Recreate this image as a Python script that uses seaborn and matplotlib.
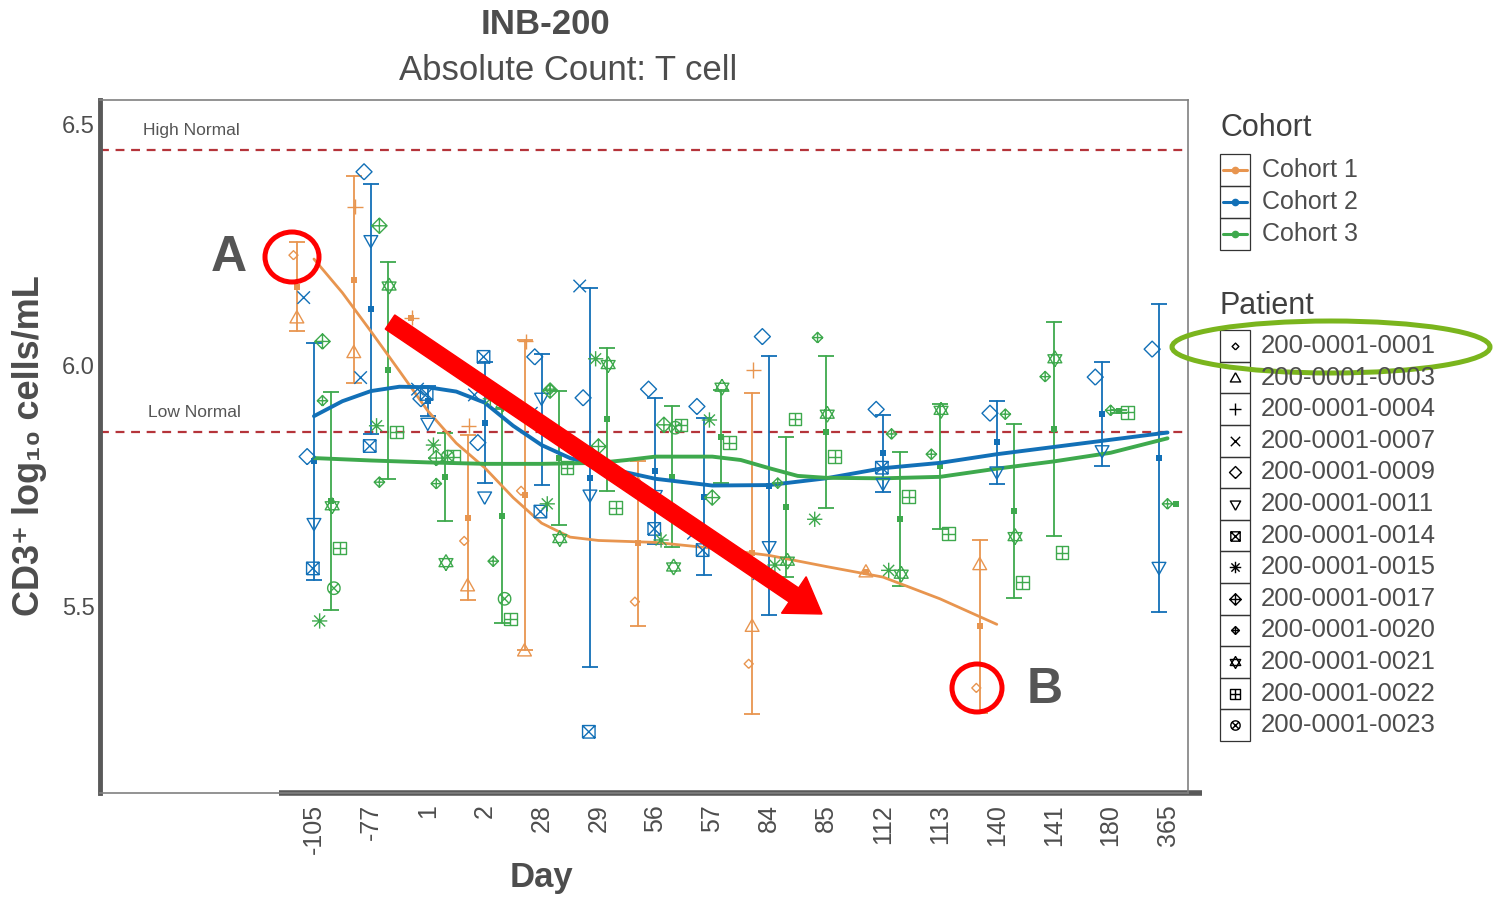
import numpy as np
import pandas as pd
import seaborn as sns
import matplotlib.pyplot as plt
from matplotlib.path import Path
from matplotlib.lines import Line2D
from matplotlib.patches import Ellipse, Rectangle, FancyArrow
from matplotlib import transforms

days = [-105, -77, 1, 2, 28, 29, 56, 57, 84, 85, 112, 113, 140, 141, 180, 365]
day_labels = [str(d) for d in days]
cohorts = ["Cohort 1", "Cohort 2", "Cohort 3"]
colors = ["#E8954F", "#1270B7", "#3EA94D"]

high_normal = 6.446
low_normal = 5.861

# per patient readings (log10 cells/mL)
p0001_days = [-105, 2, 28, 56, 84, 140]
p0001_vals = [6.228, 5.635, 5.739, 5.509, 5.380, 5.330]
p0003_days = [-105, -77, 2, 28, 56, 84, 112, 140]
p0003_vals = [6.097, 6.025, 5.541, 5.406, 5.751, 5.457, 5.570, 5.585]
p0004_days = [-77, 1, 2, 28, 84]
p0004_vals = [6.329, 6.098, 5.874, 6.049, 5.990]

p0007_days = [-105, -77, 1, 2, 28, 29, 57, 84]
p0007_vals = [6.140, 5.974, 5.950, 5.938, 5.900, 6.164, 5.651, 5.567]
p0009_days = [-105, -77, 1, 2, 28, 29, 56, 57, 84, 112, 140, 180, 365]
p0009_vals = [5.810, 6.401, 5.930, 5.839, 6.017, 5.932, 5.950, 5.914, 6.059, 5.908, 5.900, 5.975, 6.033]
p0011_days = [-105, -77, 1, 2, 28, 29, 56, 84, 112, 140, 180, 365]
p0011_vals = [5.672, 6.259, 5.880, 5.727, 5.932, 5.731, 5.730, 5.624, 5.755, 5.779, 5.823, 5.581]
p0014_days = [-105, -77, 1, 2, 28, 29, 56, 57, 112]
p0014_vals = [5.578, 5.832, 5.940, 6.017, 5.696, 5.239, 5.660, 5.616, 5.787]

p0015_days = [-105, -77, 1, 2, 28, 29, 56, 57, 84, 85, 112]
p0015_vals = [5.469, 5.874, 5.834, 5.930, 5.712, 6.013, 5.637, 5.886, 5.585, 5.680, 5.574]
p0017_days = [-105, -77, 1, 28, 29, 56, 57]
p0017_vals = [6.049, 6.289, 5.807, 5.947, 5.831, 5.876, 5.725]
p0020_days = [-105, -77, 1, 2, 28, 84, 85, 112, 113, 140, 141, 180, 365]
p0020_vals = [5.926, 5.757, 5.754, 5.593, 5.950, 5.755, 6.057, 5.857, 5.815, 5.898, 5.976, 5.906, 5.712]
p0021_days = [-105, -77, 1, 2, 28, 29, 56, 57, 84, 85, 112, 113, 140, 141]
p0021_vals = [5.708, 6.164, 5.590, 5.920, 5.640, 6.001, 5.581, 5.954, 5.593, 5.898, 5.566, 5.906, 5.644, 6.013]
p0022_days = [-105, -77, 1, 2, 28, 29, 56, 57, 84, 85, 112, 113, 140, 141, 180]
p0022_vals = [5.620, 5.861, 5.810, 5.473, 5.787, 5.704, 5.876, 5.839, 5.888, 5.810, 5.727, 5.650, 5.549, 5.611, 5.902]
p0023_days = [-105, 1, 2, 56]
p0023_vals = [5.537, 5.810, 5.515, 5.870]

patient_ids = ["200-0001-0001", "200-0001-0003", "200-0001-0004", "200-0001-0007",
               "200-0001-0009", "200-0001-0011", "200-0001-0014", "200-0001-0015",
               "200-0001-0017", "200-0001-0020", "200-0001-0021", "200-0001-0022",
               "200-0001-0023"]
patient_cohort = [1, 1, 1, 2, 2, 2, 2, 3, 3, 3, 3, 3, 3]
patient_days = [p0001_days, p0003_days, p0004_days, p0007_days, p0009_days, p0011_days,
                p0014_days, p0015_days, p0017_days, p0020_days, p0021_days, p0022_days,
                p0023_days]
patient_vals = [p0001_vals, p0003_vals, p0004_vals, p0007_vals, p0009_vals, p0011_vals,
                p0014_vals, p0015_vals, p0017_vals, p0020_vals, p0021_vals, p0022_vals,
                p0023_vals]

# loess trend per cohort, read at category positions
smooth1_pos = [0, 0.5, 1, 1.5, 2, 2.5, 3, 3.5, 4, 4.5, 5, 6, 7, 8, 9, 10, 11, 12]
smooth1_val = [6.220, 6.150, 6.070, 5.988, 5.905, 5.838, 5.787, 5.725, 5.672, 5.643,
               5.636, 5.632, 5.620, 5.605, 5.582, 5.560, 5.515, 5.462]
smooth2_pos = [0, 0.5, 1, 1.5, 2, 2.5, 3, 3.5, 4, 4.5, 5, 6, 7, 8, 9, 10, 11, 12, 13, 14, 15]
smooth2_val = [5.894, 5.925, 5.946, 5.955, 5.954, 5.945, 5.922, 5.874, 5.834, 5.807,
               5.790, 5.764, 5.750, 5.751, 5.765, 5.786, 5.797, 5.815, 5.830, 5.845, 5.860]
smooth3_pos = [0, 1, 2, 3, 4, 5, 5.5, 6, 7, 7.5, 8, 8.5, 9, 10, 11, 12, 13, 14, 15]
smooth3_val = [5.807, 5.802, 5.798, 5.795, 5.795, 5.797, 5.803, 5.810, 5.810, 5.803,
               5.786, 5.770, 5.766, 5.765, 5.768, 5.785, 5.800, 5.818, 5.848]


def outline(*lines):
    verts, codes = [], []
    for ln in lines:
        verts.extend(ln)
        codes.extend([Path.MOVETO] + [Path.LINETO] * (len(ln) - 1))
    return Path(verts, codes)


sq = [(-1, -1), (1, -1), (1, 1), (-1, 1), (-1, -1)]
dia = [(0, -1), (1, 0), (0, 1), (-1, 0), (0, -1)]
ring = [(np.cos(t), np.sin(t)) for t in np.linspace(0, 2 * np.pi, 25)]
hbar, vbar = [(-1, 0), (1, 0)], [(0, -1), (0, 1)]
d1, d2 = [(-0.72, -0.72), (0.72, 0.72)], [(-0.72, 0.72), (0.72, -0.72)]

marker_paths = [
    outline(dia),
    outline([(0, 1), (0.9, -0.6), (-0.9, -0.6), (0, 1)]),
    outline(hbar, vbar),
    outline([(-1, -1), (1, 1)], [(-1, 1), (1, -1)]),
    outline(dia),
    outline([(0, -1), (0.9, 0.6), (-0.9, 0.6), (0, -1)]),
    outline(sq, [(-1, -1), (1, 1)], [(-1, 1), (1, -1)]),
    outline(hbar, vbar, d1, d2),
    outline(dia, hbar, vbar),
    outline(dia, hbar, vbar),
    outline([(0, 1), (0.87, -0.5), (-0.87, -0.5), (0, 1)],
            [(0, -1), (0.87, 0.5), (-0.87, 0.5), (0, -1)]),
    outline(sq, hbar, vbar),
    outline(ring, [(-0.7, -0.7), (0.7, 0.7)], [(-0.7, 0.7), (0.7, -0.7)]),
]
marker_size = [6.5, 11, 11, 9, 11.5, 11, 9, 11, 11, 7.5, 11.5, 9, 9]
jitter = [-0.06, 0.0, 0.02, -0.18, -0.12, 0.0, -0.02, -0.2, -0.15, -0.15, 0.02, 0.15, 0.05]

rows = []
for pid, coh, dl, vl in zip(patient_ids, patient_cohort, patient_days, patient_vals):
    for d, v in zip(dl, vl):
        rows.append({"patient": pid, "cohort": cohorts[coh - 1], "day": d, "value": v})
df = pd.DataFrame(rows)
df["pos"] = df["day"].map({d: i for i, d in enumerate(days)})
present = df.groupby("day")["cohort"].apply(lambda s: sorted(s.unique()))
df["xmean"] = [p + (present[d].index(c) - (len(present[d]) - 1) / 2) * 0.3
               for p, d, c in zip(df["pos"], df["day"], df["cohort"])]
df["xpat"] = df["xmean"] + df["patient"].map(dict(zip(patient_ids, jitter)))

sns.set_style("white")
plt.rcParams["font.family"] = ["Liberation Sans", "DejaVu Sans"]

W, H = 1493, 899
fig = plt.figure(figsize=(W / 100, H / 100), dpi=100)
pix = transforms.Affine2D().scale(0.01, -0.01).translate(0, H / 100) + fig.dpi_scale_trans
ax = fig.add_axes([100 / W, 1 - 793 / H, 1088 / W, 693 / H])

for yv in [high_normal, low_normal]:
    ax.axhline(yv, color="#B5343A", lw=1.6, ls=(0, (4, 3)), zorder=1)
ax.text(-3.0, 6.4875, "High Normal", fontsize=12.5, color="#555555", va="center")
ax.text(-2.92, 5.9025, "Low Normal", fontsize=12.5, color="#555555", va="center")

for sx, sy, col, lw in [(smooth1_pos, smooth1_val, colors[0], 2.0),
                        (smooth2_pos, smooth2_val, colors[1], 2.8),
                        (smooth3_pos, smooth3_val, colors[2], 2.8)]:
    sns.lineplot(x=sx, y=sy, color=col, linewidth=lw, ax=ax, zorder=3)

sns.lineplot(data=df, x="xmean", y="value", hue="cohort", hue_order=cohorts,
             palette=colors, estimator="mean", errorbar="sd", err_style="bars",
             marker="s", markersize=5, markeredgewidth=0, linestyle="none",
             err_kws=dict(capsize=5.5, elinewidth=1.3, capthick=1.3),
             legend=False, ax=ax)

for pid, coh, mp, ms in zip(patient_ids, patient_cohort, marker_paths, marker_size):
    col = colors[coh - 1]
    sns.scatterplot(data=df[df["patient"] == pid], x="xpat", y="value", marker=mp,
                    s=ms ** 2, color=col, facecolor="none", edgecolor=col,
                    linewidth=1.0, legend=False, ax=ax, zorder=4)

ax.set_xlim(-3.76, 15.36)
ax.set_ylim(5.112, 6.55)
ax.set_xticks(range(len(days)))
ax.set_xticklabels(day_labels, rotation=90, fontsize=18, color="#4d4d4d")
ax.set_yticks([5.5, 6.0, 6.5])
ax.set_yticklabels(["5.5", "6.0", "6.5"], fontsize=17, color="#4d4d4d")
ax.tick_params(axis="y", length=3, width=2, pad=1, color="#595959")
ax.tick_params(axis="x", length=4, width=2.5, pad=4, color="#595959")
ax.set_xlabel("")
ax.set_ylabel("")
for s in ["top", "right", "bottom"]:
    ax.spines[s].set_color("#808080")
    ax.spines[s].set_linewidth(1.2)
ax.spines["left"].set_color("#595959")
ax.spines["left"].set_linewidth(3.5)
ax.plot([-0.62, 15.6], [0, 0], transform=ax.get_xaxis_transform(), color="#595959",
        lw=4, clip_on=False, solid_capstyle="butt")

txt = "#4d4d4d"
fig.text(545, 25, "INB-200", transform=pix, fontsize=25, fontweight="bold", color=txt,
         ha="center", va="center")
fig.text(568, 70, "Absolute Count: T cell", transform=pix, fontsize=25, color=txt,
         ha="center", va="center")
fig.text(541, 878, "Day", transform=pix, fontsize=25, fontweight="bold", color=txt,
         ha="center", va="center")
fig.text(30, 446, "CD3\u207a log\u2081\u2080 cells/mL", transform=pix, fontsize=26,
         fontweight="bold", color=txt, rotation=90, ha="center", va="center")

# legends
fig.text(1220, 128, "Cohort", transform=pix, fontsize=22, color="#404040", va="center")
for i, (c, col) in enumerate(zip(cohorts, colors)):
    cy = 170 + i * 32
    fig.add_artist(Rectangle((1220, cy - 16), 30, 32, transform=pix, fill=False,
                             edgecolor="#333333", lw=0.9))
    fig.add_artist(Line2D([1223, 1247], [cy, cy], transform=pix, color=col, lw=2.2))
    fig.add_artist(Line2D([1235], [cy], transform=pix, color=col, marker="o", ms=4.5,
                          ls="none"))
    fig.text(1262, cy, c, transform=pix, fontsize=18, color=txt, va="center")

fig.text(1220, 306, "Patient", transform=pix, fontsize=22, color="#404040", va="center")
for i, (pid, mp, ms) in enumerate(zip(patient_ids, marker_paths, marker_size)):
    cy = 346 + i * 31.6
    fig.add_artist(Rectangle((1220, cy - 15.8), 30, 31.6, transform=pix, fill=False,
                             edgecolor="#333333", lw=0.9))
    fig.add_artist(Line2D([1235], [cy], transform=pix, marker=mp, ms=ms * 0.75,
                          mfc="none", mec="black", mew=1.0, ls="none"))
    fig.text(1261, cy, pid, transform=pix, fontsize=18.5, color=txt, va="center")

# call-outs
red = "#FF0000"
fig.add_artist(Ellipse((292, 257), 54, 50, transform=pix, fill=False, edgecolor=red, lw=3.6))
fig.add_artist(Ellipse((977, 688), 50, 48, transform=pix, fill=False, edgecolor=red, lw=3.6))
fig.text(229, 258, "A", transform=pix, fontsize=36, fontweight="bold", color="#555555",
         ha="center", va="center")
fig.text(1045, 690, "B", transform=pix, fontsize=36, fontweight="bold", color="#555555",
         ha="center", va="center")
fig.add_artist(FancyArrow(390, 322, 432, 292, width=17, head_width=44, head_length=34,
                          length_includes_head=True, color=red, transform=pix))
fig.add_artist(Ellipse((1331, 347), 318, 52, transform=pix, fill=False,
                       edgecolor="#7AB51D", lw=3.6))

fig.savefig("out.png", dpi=100, facecolor="white")
